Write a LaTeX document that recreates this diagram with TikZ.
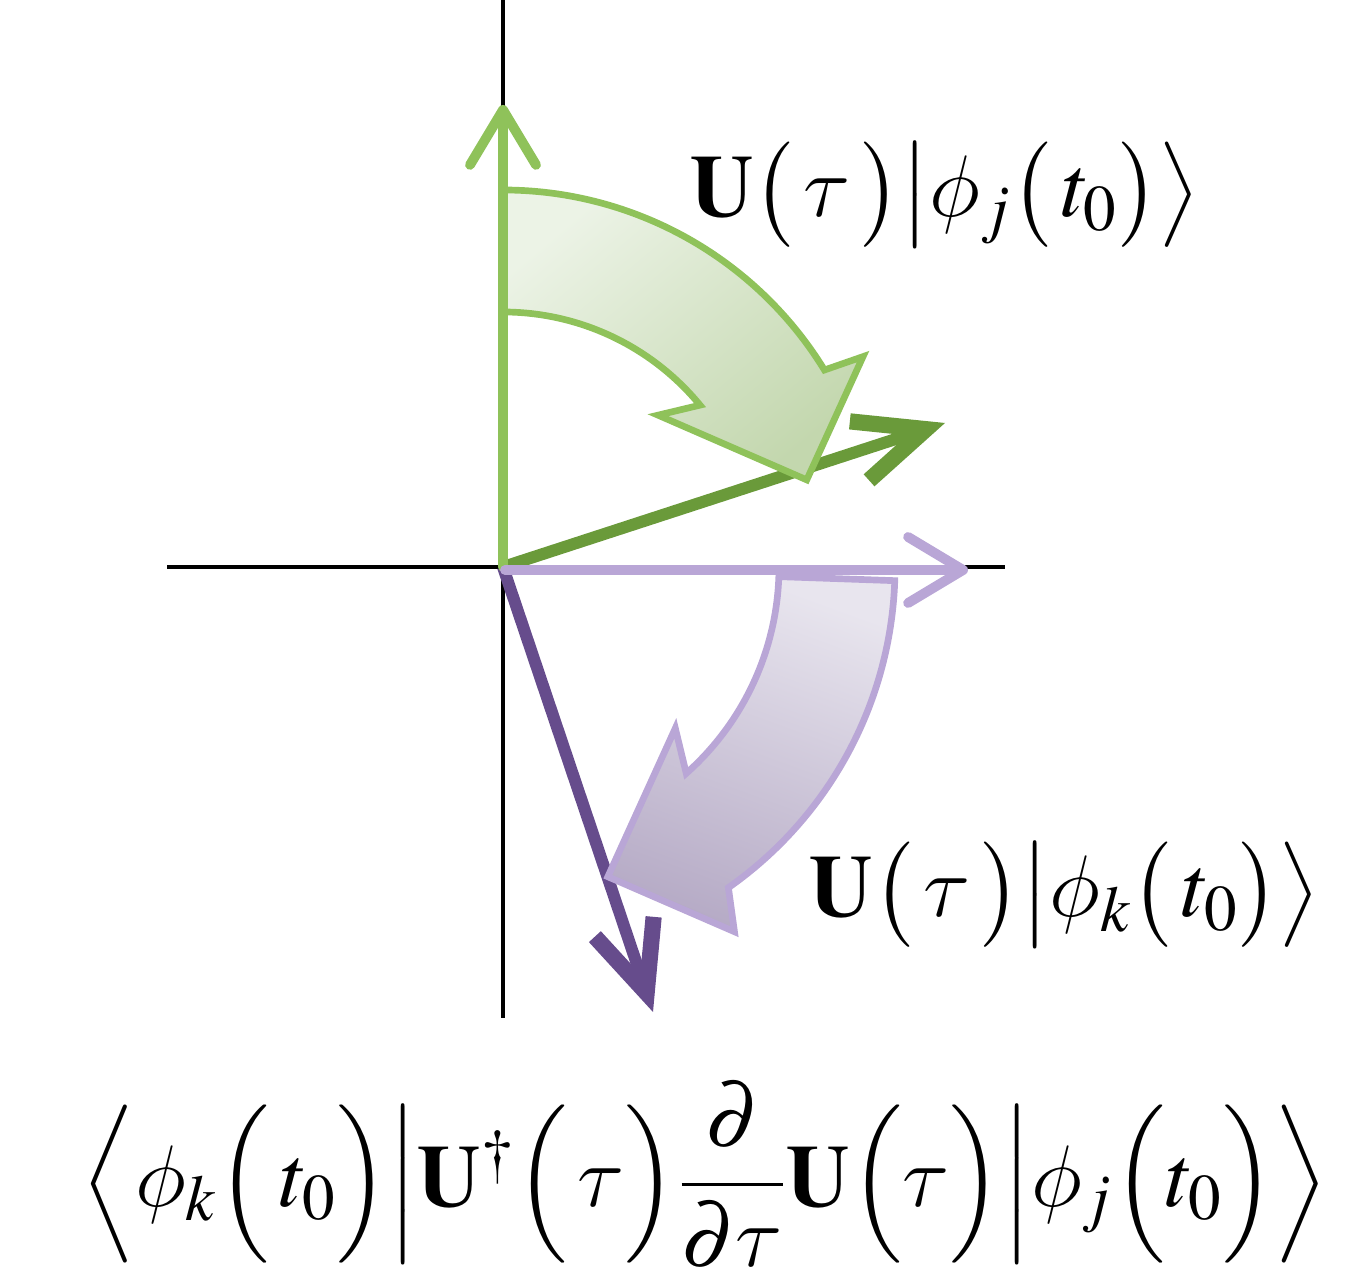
\documentclass[tikz,border=0pt]{standalone}
\usepackage{amsmath}
\usepackage{mathptmx}
\DeclareSymbolFont{cmlet}{OML}{cmm}{m}{it}
\DeclareMathSymbol{\phi}{\mathord}{cmlet}{"1E}
\DeclareMathSymbol{\tau}{\mathord}{cmlet}{"1C}
\usetikzlibrary{arrows.meta,calc}
\definecolor{lgreen}{HTML}{8FC25A}
\definecolor{dgreen}{HTML}{6A9A3A}
\definecolor{lpurple}{HTML}{B9A6D6}
\definecolor{dpurple}{HTML}{664C8C}
\definecolor{gfillA}{HTML}{ECF3E6}
\definecolor{gfillB}{HTML}{C3D7AE}
\definecolor{pfillA}{HTML}{E8E5EE}
\definecolor{pfillB}{HTML}{B6ABC6}
\tikzset{
  axisline/.style={line width=1.15pt, black},
  lightvec/.style={line width=2.8pt, line cap=round, -{Straight Barb[length=0.55cm,width=0.66cm,round]}},
  darkvec/.style={line width=3.4pt, -{Straight Barb[length=0.7cm,width=0.62cm,line width=4.6pt]}},
  blockarrow/.style={line width=1.9pt, line join=miter},
  lbl/.style={inner sep=0pt, font=\fontsize{25}{30}\selectfont}
}
\begin{document}
\begin{tikzpicture}
\useasboundingbox (0,0) rectangle (13.68,12.82);
\coordinate (O) at (5.03,7.15);
% axes
\coordinate (xl) at (1.67,7.15);
\coordinate (xr) at (10.05,7.15);
\coordinate (yt) at (5.03,12.82);
\coordinate (yb) at (5.03,2.64);
\draw[axisline] (xl) -- (xr);
\draw[axisline] (yt) -- (yb);
% vector tips
\coordinate (gtip) at (5.03,11.77);
\coordinate (dgtip) at (9.45,8.59);
\coordinate (lptip) at (9.68,7.12);
\coordinate (dptip) at (6.53,2.70);
\coordinate (Op) at (5.05,7.12);
% dark vectors
\draw[darkvec, dgreen] (O) -- (dgtip);
\draw[darkvec, dpurple] (O) -- (dptip);
% green block arrow
\path[blockarrow, draw=lgreen, top color=gfillA, bottom color=gfillB, shading angle=40]
  ($(O)+(90:3.77)$) arc[start angle=90, end angle=31.5, radius=3.77]
  -- ($(O)+(30.3:4.17)$) -- ($(O)+(16:3.16)$) -- ($(O)+(44.4:2.17)$)
  -- ($(O)+(39.4:2.55)$) arc[start angle=39.4, end angle=90, radius=2.55] -- cycle;
% purple block arrow
\path[blockarrow, draw=lpurple, top color=pfillA, bottom color=pfillB, shading angle=-20]
  ($(O)+(-2:2.78)$) -- ($(O)+(-2:3.92)$) arc[start angle=-2, end angle=-54.9, radius=3.92]
  -- ($(O)+(-57.6:4.32)$) -- ($(O)+(-71.3:3.27)$) -- ($(O)+(-43.1:2.36)$)
  -- ($(O)+(-48.4:2.76)$) arc[start angle=-48.4, end angle=-2, radius=2.76] -- cycle;
% light vectors
\draw[lightvec, lgreen] (O) -- (gtip);
\draw[lightvec, lpurple] (Op) -- (lptip);
% labels
\node[lbl] (lj) at (9.45,10.87) {$\mathbf{U}\bigl(\,\tau\,\bigr)\big|\phi_{j}\bigl(\,t_{0}\bigr)\big\rangle$};
\node[lbl] (lk) at (10.65,3.87) {$\mathbf{U}\bigl(\,\tau\,\bigr)\big|\phi_{k}\bigl(\,t_{0}\bigr)\big\rangle$};
\node[lbl] (lm) at (7.05,1.07) {$\Big\langle\phi_{k}\Bigl(\,t_{0}\Bigr)\Big|\mathbf{U}^{\dagger}\Bigl(\,\tau\Bigr)\dfrac{\partial}{\partial\tau}\mathbf{U}\Bigl(\tau\Bigr)\Big|\phi_{j}\Bigl(t_{0}\Bigr)\Big\rangle$};
\end{tikzpicture}
\end{document}
